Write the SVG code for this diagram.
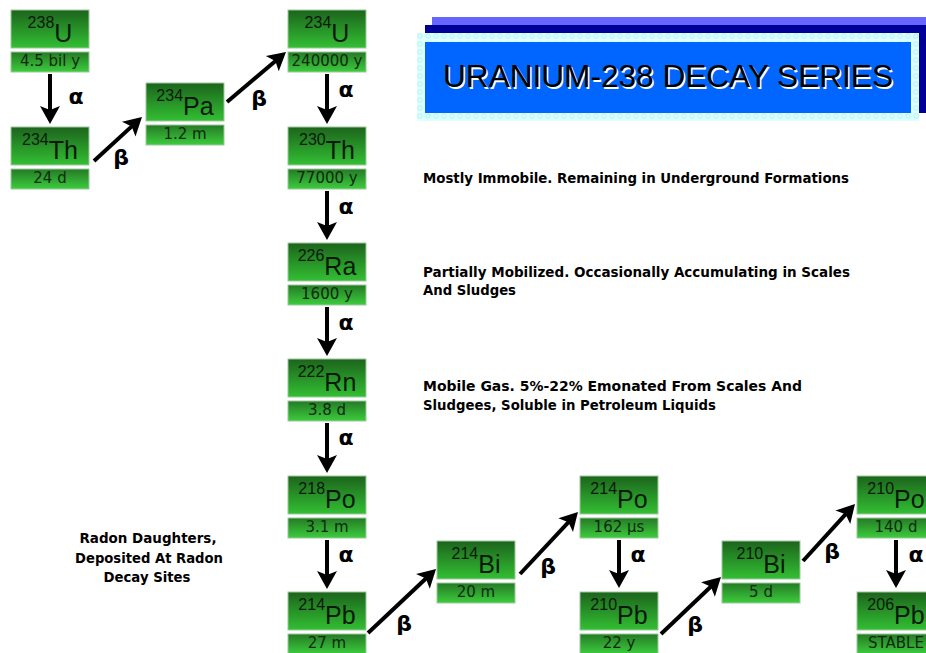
<svg xmlns="http://www.w3.org/2000/svg" width="926" height="653" viewBox="0 0 926 653">
<defs>
<linearGradient id="gTop" x1="0" y1="0" x2="0" y2="1">
<stop offset="0" stop-color="#1c641c"/>
<stop offset="1" stop-color="#33bf33"/>
</linearGradient>
<linearGradient id="gBot" x1="0" y1="0" x2="0" y2="1">
<stop offset="0" stop-color="#257a25"/>
<stop offset="1" stop-color="#3ccc3c"/>
</linearGradient>
<pattern id="dots" width="8" height="8" patternUnits="userSpaceOnUse">
<rect width="8" height="8" fill="#dcffff"/>
<circle cx="4" cy="4" r="2.2" fill="none" stroke="#b4f2f2" stroke-width="1"/>
</pattern>
<marker id="ah" markerUnits="userSpaceOnUse" viewBox="-1 -11 21 22" refX="10" refY="0" markerWidth="21" markerHeight="22" orient="auto">
<path d="M0,-10 L18,0 L0,10 L4,0 z" fill="#000"/>
</marker>
<style>
.t{fill:url(#gTop);stroke:#9cc89c;stroke-width:1}
.b{fill:url(#gBot);stroke:#9cc89c;stroke-width:1}
.el{font-family:"Liberation Sans",Arial,sans-serif;fill:#0a1a0a;text-anchor:middle}
.sup{font-size:16px}
.sym{font-size:25px}
.hl{font-family:"DejaVu Sans",Verdana,sans-serif;font-size:15px;fill:#0f2a0f;text-anchor:middle}
.ar{stroke:#000;stroke-width:4;fill:none;marker-end:url(#ah)}
.gk{font-family:"DejaVu Sans",sans-serif;font-weight:bold;font-size:22px;fill:#000;text-anchor:middle}
.note{font-family:"DejaVu Sans",sans-serif;font-weight:bold;font-size:14px;fill:#000}
.lnote{font-family:"DejaVu Sans",sans-serif;font-weight:bold;font-size:14px;fill:#000;text-anchor:middle}
</style>
</defs>
<rect width="926" height="653" fill="#fff"/>

<g id="title">
<rect x="432" y="17" width="494" height="8" fill="#6666ff"/>
<rect x="425" y="25" width="501" height="88" fill="#000099"/>
<rect x="417" y="33" width="502" height="88" fill="url(#dots)"/>
<rect x="425" y="42" width="486" height="71" fill="#0066ff"/>
<text x="444.5" y="88.5" font-family="Liberation Sans,Arial,sans-serif" font-size="31" fill="#fff" textLength="450" lengthAdjust="spacingAndGlyphs">URANIUM-238 DECAY SERIES</text>
<text x="443" y="87" font-family="Liberation Sans,Arial,sans-serif" font-size="31" fill="#000" textLength="450" lengthAdjust="spacingAndGlyphs">URANIUM-238 DECAY SERIES</text>
</g>

<g id="n-u238"><rect class="t" x="11" y="10" width="78" height="38"/><rect class="b" x="11" y="52" width="78" height="20"/>
<text class="el" x="50" y="42"><tspan class="sup" dy="-14">238</tspan><tspan class="sym" dy="14">U</tspan></text><text class="hl" x="50" y="66">4.5 bil y</text></g>

<g id="n-th234"><rect class="t" x="11" y="127" width="78" height="38"/><rect class="b" x="11" y="169" width="78" height="20"/>
<text class="el" x="50" y="159"><tspan class="sup" dy="-14">234</tspan><tspan class="sym" dy="14">Th</tspan></text><text class="hl" x="50" y="183">24 d</text></g>

<g id="n-pa234"><rect class="t" x="146" y="83" width="78" height="38"/><rect class="b" x="146" y="125" width="78" height="20"/>
<text class="el" x="185" y="115"><tspan class="sup" dy="-14">234</tspan><tspan class="sym" dy="14">Pa</tspan></text><text class="hl" x="185" y="139">1.2 m</text></g>

<g id="n-u234"><rect class="t" x="288" y="10" width="78" height="38"/><rect class="b" x="288" y="52" width="78" height="20"/>
<text class="el" x="327" y="42"><tspan class="sup" dy="-14">234</tspan><tspan class="sym" dy="14">U</tspan></text><text class="hl" x="327" y="66">240000 y</text></g>

<g id="n-th230"><rect class="t" x="288" y="127" width="78" height="38"/><rect class="b" x="288" y="169" width="78" height="20"/>
<text class="el" x="327" y="159"><tspan class="sup" dy="-14">230</tspan><tspan class="sym" dy="14">Th</tspan></text><text class="hl" x="327" y="183">77000 y</text></g>

<g id="n-ra226"><rect class="t" x="288" y="243" width="78" height="38"/><rect class="b" x="288" y="285" width="78" height="20"/>
<text class="el" x="327" y="275"><tspan class="sup" dy="-14">226</tspan><tspan class="sym" dy="14">Ra</tspan></text><text class="hl" x="327" y="299">1600 y</text></g>

<g id="n-rn222"><rect class="t" x="288" y="359" width="78" height="38"/><rect class="b" x="288" y="401" width="78" height="20"/>
<text class="el" x="327" y="391"><tspan class="sup" dy="-14">222</tspan><tspan class="sym" dy="14">Rn</tspan></text><text class="hl" x="327" y="415">3.8 d</text></g>

<g id="n-po218"><rect class="t" x="288" y="476" width="78" height="38"/><rect class="b" x="288" y="518" width="78" height="20"/>
<text class="el" x="327" y="508"><tspan class="sup" dy="-14">218</tspan><tspan class="sym" dy="14">Po</tspan></text><text class="hl" x="327" y="532">3.1 m</text></g>

<g id="n-pb214"><rect class="t" x="288" y="592" width="78" height="38"/><rect class="b" x="288" y="634" width="78" height="20"/>
<text class="el" x="327" y="624"><tspan class="sup" dy="-14">214</tspan><tspan class="sym" dy="14">Pb</tspan></text><text class="hl" x="327" y="648">27 m</text></g>

<g id="n-bi214"><rect class="t" x="437" y="541" width="78" height="38"/><rect class="b" x="437" y="583" width="78" height="20"/>
<text class="el" x="476" y="573"><tspan class="sup" dy="-14">214</tspan><tspan class="sym" dy="14">Bi</tspan></text><text class="hl" x="476" y="597">20 m</text></g>

<g id="n-po214"><rect class="t" x="580" y="476" width="78" height="38"/><rect class="b" x="580" y="518" width="78" height="20"/>
<text class="el" x="619" y="508"><tspan class="sup" dy="-14">214</tspan><tspan class="sym" dy="14">Po</tspan></text><text class="hl" x="619" y="532">162 µs</text></g>

<g id="n-pb210"><rect class="t" x="580" y="592" width="78" height="38"/><rect class="b" x="580" y="634" width="78" height="20"/>
<text class="el" x="619" y="624"><tspan class="sup" dy="-14">210</tspan><tspan class="sym" dy="14">Pb</tspan></text><text class="hl" x="619" y="648">22 y</text></g>

<g id="n-bi210"><rect class="t" x="722" y="541" width="78" height="38"/><rect class="b" x="722" y="583" width="78" height="20"/>
<text class="el" x="761" y="573"><tspan class="sup" dy="-14">210</tspan><tspan class="sym" dy="14">Bi</tspan></text><text class="hl" x="761" y="597">5 d</text></g>

<g id="n-po210"><rect class="t" x="857" y="476" width="78" height="38"/><rect class="b" x="857" y="518" width="78" height="20"/>
<text class="el" x="896" y="508"><tspan class="sup" dy="-14">210</tspan><tspan class="sym" dy="14">Po</tspan></text><text class="hl" x="896" y="532">140 d</text></g>

<g id="n-pb206"><rect class="t" x="857" y="592" width="78" height="38"/><rect class="b" x="857" y="634" width="78" height="20"/>
<text class="el" x="896" y="624"><tspan class="sup" dy="-14">206</tspan><tspan class="sym" dy="14">Pb</tspan></text><text class="hl" x="896" y="648">STABLE</text></g>

<g id="connectors">
<line class="ar" x1="50" y1="74" x2="50" y2="116"/>
<line class="ar" x1="94" y1="161" x2="136.1" y2="122.4"/>
<line class="ar" x1="227" y1="102" x2="279.9" y2="57.2"/>
<line class="ar" x1="327" y1="74" x2="327" y2="116"/>
<line class="ar" x1="327" y1="191" x2="327" y2="232"/>
<line class="ar" x1="327" y1="307" x2="327" y2="348"/>
<line class="ar" x1="327" y1="423" x2="327" y2="465"/>
<line class="ar" x1="327" y1="540" x2="327" y2="581"/>
<line class="ar" x1="368" y1="633" x2="430.2" y2="574.5"/>
<line class="ar" x1="520" y1="574" x2="572.5" y2="517.8"/>
<line class="ar" x1="619" y1="540" x2="619" y2="580"/>
<line class="ar" x1="661" y1="634" x2="715.2" y2="582.5"/>
<line class="ar" x1="803" y1="561" x2="849.6" y2="509.9"/>
<line class="ar" x1="896" y1="540" x2="896" y2="580"/>
<text class="gk" x="76" y="104">α</text>
<text class="gk" x="121" y="165">β</text>
<text class="gk" x="259" y="106">β</text>
<text class="gk" x="346" y="97">α</text>
<text class="gk" x="346" y="214">α</text>
<text class="gk" x="346" y="330">α</text>
<text class="gk" x="346" y="445">α</text>
<text class="gk" x="346" y="562">α</text>
<text class="gk" x="404" y="631">β</text>
<text class="gk" x="548" y="574">β</text>
<text class="gk" x="638" y="562">α</text>
<text class="gk" x="695" y="632">β</text>
<text class="gk" x="832" y="559">β</text>
<text class="gk" x="916" y="562">α</text>
</g>

<g id="notes">
<text class="note" x="423" y="183" textLength="426" lengthAdjust="spacingAndGlyphs">Mostly Immobile. Remaining in Underground Formations</text>
<text class="note" x="423" y="277" textLength="427" lengthAdjust="spacingAndGlyphs">Partially Mobilized. Occasionally Accumulating in Scales</text>
<text class="note" x="423" y="295" textLength="93" lengthAdjust="spacingAndGlyphs">And Sludges</text>
<text class="note" x="423" y="391" textLength="379" lengthAdjust="spacingAndGlyphs">Mobile Gas. 5%-22% Emonated From Scales And</text>
<text class="note" x="423" y="410" textLength="293" lengthAdjust="spacingAndGlyphs">Sludgees, Soluble in Petroleum Liquids</text>
<text class="lnote" x="148" y="543" textLength="137" lengthAdjust="spacingAndGlyphs">Radon Daughters,</text>
<text class="lnote" x="149" y="563" textLength="148" lengthAdjust="spacingAndGlyphs">Deposited At Radon</text>
<text class="lnote" x="147" y="582" textLength="87" lengthAdjust="spacingAndGlyphs">Decay Sites</text>
</g>
</svg>
